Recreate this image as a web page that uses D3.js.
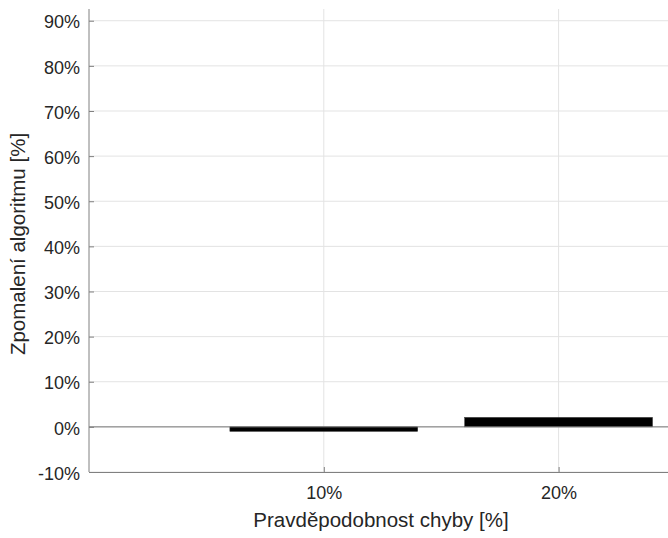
<!DOCTYPE html>
<html><head><meta charset="utf-8">
<script src="https://cdn.jsdelivr.net/npm/d3@7"></script>
<style>body{margin:0;background:#fff}svg{display:block}text{font-family:"Liberation Sans",Arial,sans-serif}</style>
</head><body>
<svg id="c" width="668" height="538"></svg>
<script>
const categories = ["10%", "20%"];
const values = [-1.0, 2.1];
const yTicks = [-10, 0, 10, 20, 30, 40, 50, 60, 70, 80, 90];
const xLabel = "Pravděpodobnost chyby [%]";
const yLabel = "Zpomalení algoritmu [%]";

const svg = d3.select("#c");
const L = 89, T = 9, B = 472, R = 676;
const x = d3.scaleLinear().domain([0, 2.5]).range([L, R]);
const y = d3.scaleLinear().domain([-10, 92.6]).range([B, T]);
const barW = 0.8;

// grid
svg.append("g").selectAll("line.gy").data(yTicks).join("line")
  .attr("x1", L).attr("x2", R).attr("y1", d => y(d)).attr("y2", d => y(d))
  .attr("stroke", "#e3e3e3").attr("stroke-width", 1);
svg.append("g").selectAll("line.gx").data(categories).join("line")
  .attr("x1", (d, i) => x(i + 1)).attr("x2", (d, i) => x(i + 1))
  .attr("y1", T).attr("y2", B)
  .attr("stroke", "#e3e3e3").attr("stroke-width", 1);

// bars
svg.append("g").selectAll("rect").data(values).join("rect")
  .attr("x", (d, i) => x(i + 1 - barW / 2))
  .attr("width", (d, i) => x(i + 1 + barW / 2) - x(i + 1 - barW / 2))
  .attr("y", d => Math.min(y(d), y(0)))
  .attr("height", d => Math.abs(y(d) - y(0)))
  .attr("fill", "#000").attr("stroke", "#333").attr("stroke-width", 0.5);

// baseline
svg.append("line").attr("x1", L).attr("x2", R).attr("y1", y(0)).attr("y2", y(0))
  .attr("stroke", "#777").attr("stroke-width", 1);

// axes
const yAxis = d3.axisLeft(y).tickValues(yTicks).tickFormat(d => d + "%").tickSizeInner(-5).tickSizeOuter(0).tickPadding(9);
const gy = svg.append("g").attr("transform", `translate(${L},0)`).call(yAxis);
const xAxis = d3.axisBottom(x).tickValues([1, 2]).tickFormat((d) => categories[d - 1]).tickSizeInner(-5).tickSizeOuter(0).tickPadding(14);
const gx = svg.append("g").attr("transform", `translate(0,${B})`).call(xAxis);
[gy, gx].forEach(g => {
  g.select(".domain").attr("stroke", "#808080").attr("stroke-width", 1);
  g.selectAll(".tick line").attr("stroke", "#808080");
  g.selectAll(".tick text").attr("fill", "#262626").style("font-size", "18px");
});
gy.selectAll(".tick text").attr("dy", "0.4em");
gx.selectAll(".tick text").attr("dy", "0.7em");
gy.select(".domain").attr("d", `M0,${T}V${B}`);

svg.append("text").attr("x", 381).attr("y", 527).attr("text-anchor", "middle")
  .attr("fill", "#262626").style("font-size", "20.5px").text(xLabel);
svg.append("text").attr("transform", "translate(25,244) rotate(-90)").attr("text-anchor", "middle")
  .attr("fill", "#262626").style("font-size", "20.5px").text(yLabel);
</script>
</body></html>
